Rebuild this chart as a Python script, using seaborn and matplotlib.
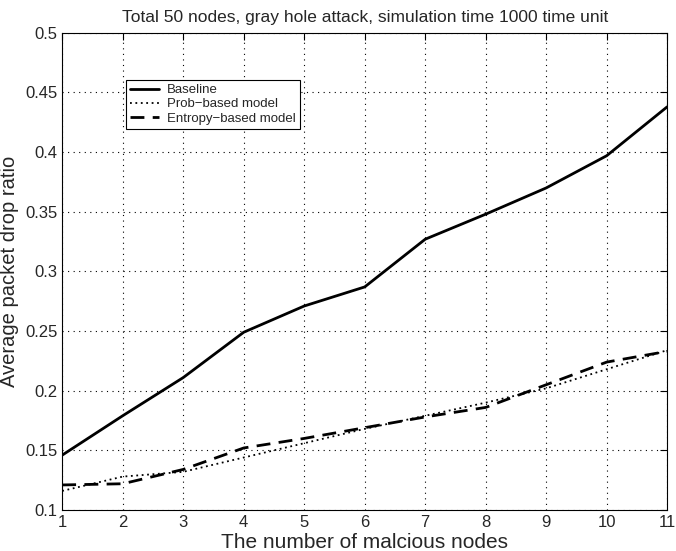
import seaborn as sns
import matplotlib.pyplot as plt
import pandas as pd

# number of malicious nodes
n_malicious = [1, 2, 3, 4, 5, 6, 7, 8, 9, 10, 11]

# average packet drop ratio per model
baseline = [0.146, 0.179, 0.211, 0.249, 0.271, 0.287, 0.327, 0.348, 0.370, 0.397, 0.438]
prob_based = [0.116, 0.128, 0.132, 0.144, 0.156, 0.168, 0.179, 0.190, 0.202, 0.218, 0.234]
entropy_based = [0.121, 0.122, 0.134, 0.152, 0.160, 0.169, 0.178, 0.186, 0.205, 0.224, 0.233]

series_names = ['Baseline', 'Prob\u2212based model', 'Entropy\u2212based model']
y_ticks = [0.1, 0.15, 0.2, 0.25, 0.3, 0.35, 0.4, 0.45, 0.5]
y_tick_labels = ['0.1', '0.15', '0.2', '0.25', '0.3', '0.35', '0.4', '0.45', '0.5']

df = pd.DataFrame({
    'nodes': n_malicious * 3,
    'ratio': baseline + prob_based + entropy_based,
    'model': [series_names[0]] * 11 + [series_names[1]] * 11 + [series_names[2]] * 11,
})

sns.set_style('white')
plt.rcParams['font.family'] = ['Liberation Sans', 'DejaVu Sans']

fig = plt.figure(figsize=(6.76, 5.51), dpi=100)
ax = fig.add_axes([0.092, 0.0744, 0.895, 0.866])

sns.lineplot(
    data=df, x='nodes', y='ratio', hue='model', style='model',
    palette=['black'] * 3,
    dashes=[(None, None), (1, 2), (5, 3)],
    linewidth=2.0, ax=ax,
)
# thinner dotted line
ax.get_lines()[1].set_linewidth(1.3)

ax.set_xlim(1, 11)
ax.set_ylim(0.1, 0.5)
ax.set_xticks(n_malicious)
ax.set_yticks(y_ticks)
ax.set_yticklabels(y_tick_labels)
ax.tick_params(direction='in', length=5, labelsize=12, color='black', top=True, right=True)
ax.grid(True, linestyle=(0, (1, 4)), color='black', linewidth=0.8)
for s in ax.spines.values():
    s.set_color('black')
    s.set_linewidth(0.8)

ax.set_xlabel('The number of malcious nodes', fontsize=15, labelpad=2)
ax.set_ylabel('Average packet drop ratio', fontsize=14.5)
ax.set_title('Total 50 nodes, gray hole attack, simulation time 1000 time unit', fontsize=12.5, pad=8)

handles, labels = ax.get_legend_handles_labels()
for h in handles:
    h.set_color('black')
handles[1].set_linewidth(1.3)
leg = ax.legend(handles, labels, loc='upper left', bbox_to_anchor=(0.095, 0.915),
                fontsize=9.5, frameon=True, fancybox=False, edgecolor='black',
                framealpha=1, borderpad=0.3, labelspacing=0.15, handlelength=2.2,
                handletextpad=0.6)
leg.get_frame().set_linewidth(0.8)

fig.savefig('out.png', dpi=100)
